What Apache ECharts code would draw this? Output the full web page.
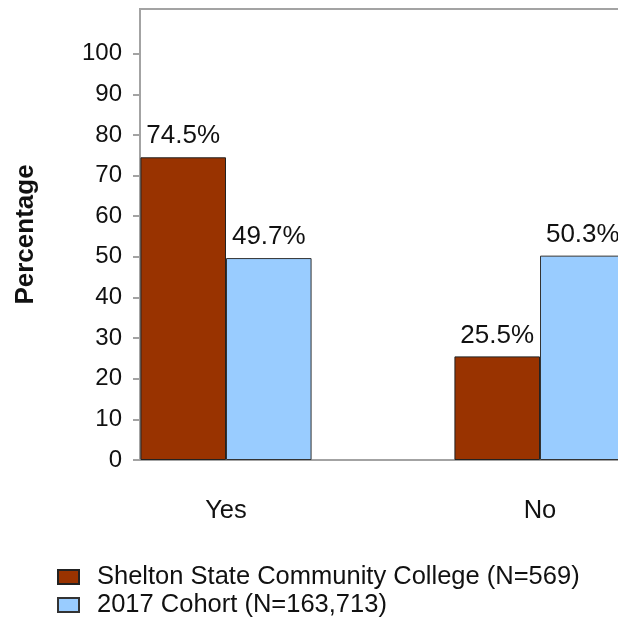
<!DOCTYPE html>
<html>
<head>
<meta charset="utf-8">
<script src="https://cdn.jsdelivr.net/npm/echarts@6/dist/echarts.min.js"></script>
<style>
  html, body { margin: 0; padding: 0; background: #ffffff; }
  #chart { width: 618px; height: 620px; }
</style>
</head>
<body>
<div id="chart"></div>
<script>
// Responses per answer, in percent
const categories = ['Yes', 'No'];
const collegeName = 'Shelton State Community College (N=569)';
const cohortName = '2017 Cohort (N=163,713)';
const collegeValues = [74.5, 25.5];
const cohortValues = [49.7, 50.3];
const yTicks = [0, 10, 20, 30, 40, 50, 60, 70, 80, 90, 100];

const font = 'Liberation Sans, Arial, sans-serif';
const frameColor = '#a3a3a3';

const chart = echarts.init(document.getElementById('chart'), null, { renderer: 'canvas' });

const labelStyle = {
  show: true,
  position: 'top',
  distance: 8,
  color: '#111',
  fontFamily: font,
  fontSize: 26,
  formatter: p => p.value.toFixed(1) + '%'
};

chart.setOption({
  animation: false,
  backgroundColor: '#ffffff',
  grid: [
    // plotting area for the bars (runs past the right edge)
    { left: 69, top: 9, width: 628, height: 451, show: false, outerBoundsMode: 'none' },
    // visible frame of the plot
    { left: 140, top: 9, width: 560, height: 451, show: true, outerBoundsMode: 'none',
      borderColor: frameColor, borderWidth: 2, backgroundColor: 'transparent' }
  ],
  xAxis: [
    {
      type: 'category',
      gridIndex: 0,
      data: categories,
      axisLine: { show: false },
      axisTick: { show: false },
      axisLabel: { color: '#111', fontFamily: font, fontSize: 25.5, margin: 38 }
    },
    { type: 'value', gridIndex: 1, show: false }
  ],
  yAxis: [
    {
      type: 'value',
      gridIndex: 0,
      min: 0,
      max: 111,
      interval: 10,
      offset: -71,
      name: 'Percentage',
      nameLocation: 'middle',
      nameGap: 101,
      nameRotate: 90,
      nameTextStyle: { color: '#111', fontFamily: font, fontSize: 26, fontWeight: 'bold' },
      splitLine: { show: false },
      axisLine: { show: false },
      axisTick: { show: true, length: 7, lineStyle: { color: frameColor, width: 2 }, customValues: yTicks },
      axisLabel: { color: '#111', fontFamily: font, fontSize: 24, margin: 18, customValues: yTicks }
    },
    { type: 'value', gridIndex: 1, show: false }
  ],
  legend: {
    orient: 'vertical',
    left: 57,
    top: 564,
    padding: 0,
    itemWidth: 21,
    itemHeight: 14,
    itemGap: 2,
    icon: 'rect',
    textStyle: { color: '#111', fontFamily: font, fontSize: 25.5, padding: [0, 0, 0, 13] },
    data: [collegeName, cohortName]
  },
  series: [
    {
      name: collegeName,
      type: 'bar',
      xAxisIndex: 0,
      yAxisIndex: 0,
      data: collegeValues,
      barGap: '0%',
      barCategoryGap: '45.5%',
      itemStyle: { color: '#993300', borderColor: '#222', borderWidth: 1 },
      label: labelStyle
    },
    {
      name: cohortName,
      type: 'bar',
      xAxisIndex: 0,
      yAxisIndex: 0,
      data: cohortValues,
      barGap: '0%',
      barCategoryGap: '45.5%',
      itemStyle: { color: '#99ccff', borderColor: '#333', borderWidth: 1 },
      label: labelStyle
    }
  ]
});
</script>
</body>
</html>
